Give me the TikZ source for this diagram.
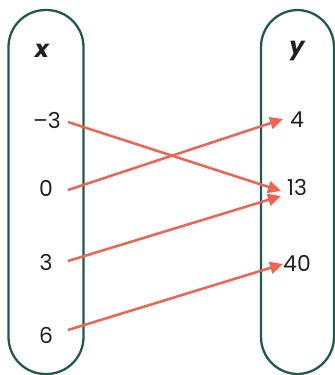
\documentclass[tikz,border=0pt]{standalone}
\usepackage{fontspec}
\setmainfont{Poppins}
\usetikzlibrary{arrows.meta}
\definecolor{capcol}{HTML}{1F5A4E}
\definecolor{arrcol}{HTML}{EF6352}
\definecolor{txtcol}{HTML}{231F20}
\tikzset{
  capsule/.style={draw=capcol, line width=2.3bp, rounded corners=37bp},
  val/.style={font=\fontsize{22}{26}\selectfont, text=txtcol, inner sep=0pt},
  head/.style={font=\fontsize{24}{28}\selectfont\bfseries\itshape, text=txtcol, inner sep=0pt},
  arr/.style={draw=arrcol, line width=2.5bp, -{Triangle[length=13bp,width=12bp]}}
}
\begin{document}
\begin{tikzpicture}[x=1bp,y=-1bp]
\useasboundingbox (0,0) rectangle (335,375);
\draw[capsule] (8.5,10) rectangle (83.5,374);
\draw[capsule] (261,10) rectangle (334,374);
\node[head] (hx) at (42,51) {x};
\node[head] (hy) at (297,51) {y};
\node[val] (m3) at (47,120) {–3};
\node[val] (z0) at (46,188) {0};
\node[val] (t3) at (46,262) {3};
\node[val] (s6) at (46,335) {6};
\node[val] (r4) at (297,120) {4};
\node[val] (r13) at (297,187) {13};
\node[val] (r40) at (297,263) {40};
\coordinate (a1) at (68,122);
\coordinate (a2) at (68,190);
\coordinate (a3) at (68,261);
\coordinate (a4) at (68,330);
\coordinate (b1) at (283,119);
\coordinate (b2) at (281,191);
\coordinate (b3) at (281,196);
\coordinate (b4) at (283,264);
\draw[arr] (a1) -- (b2);
\draw[arr] (a2) -- (b1);
\draw[arr] (a3) -- (b3);
\draw[arr] (a4) -- (b4);
\end{tikzpicture}
\end{document}
